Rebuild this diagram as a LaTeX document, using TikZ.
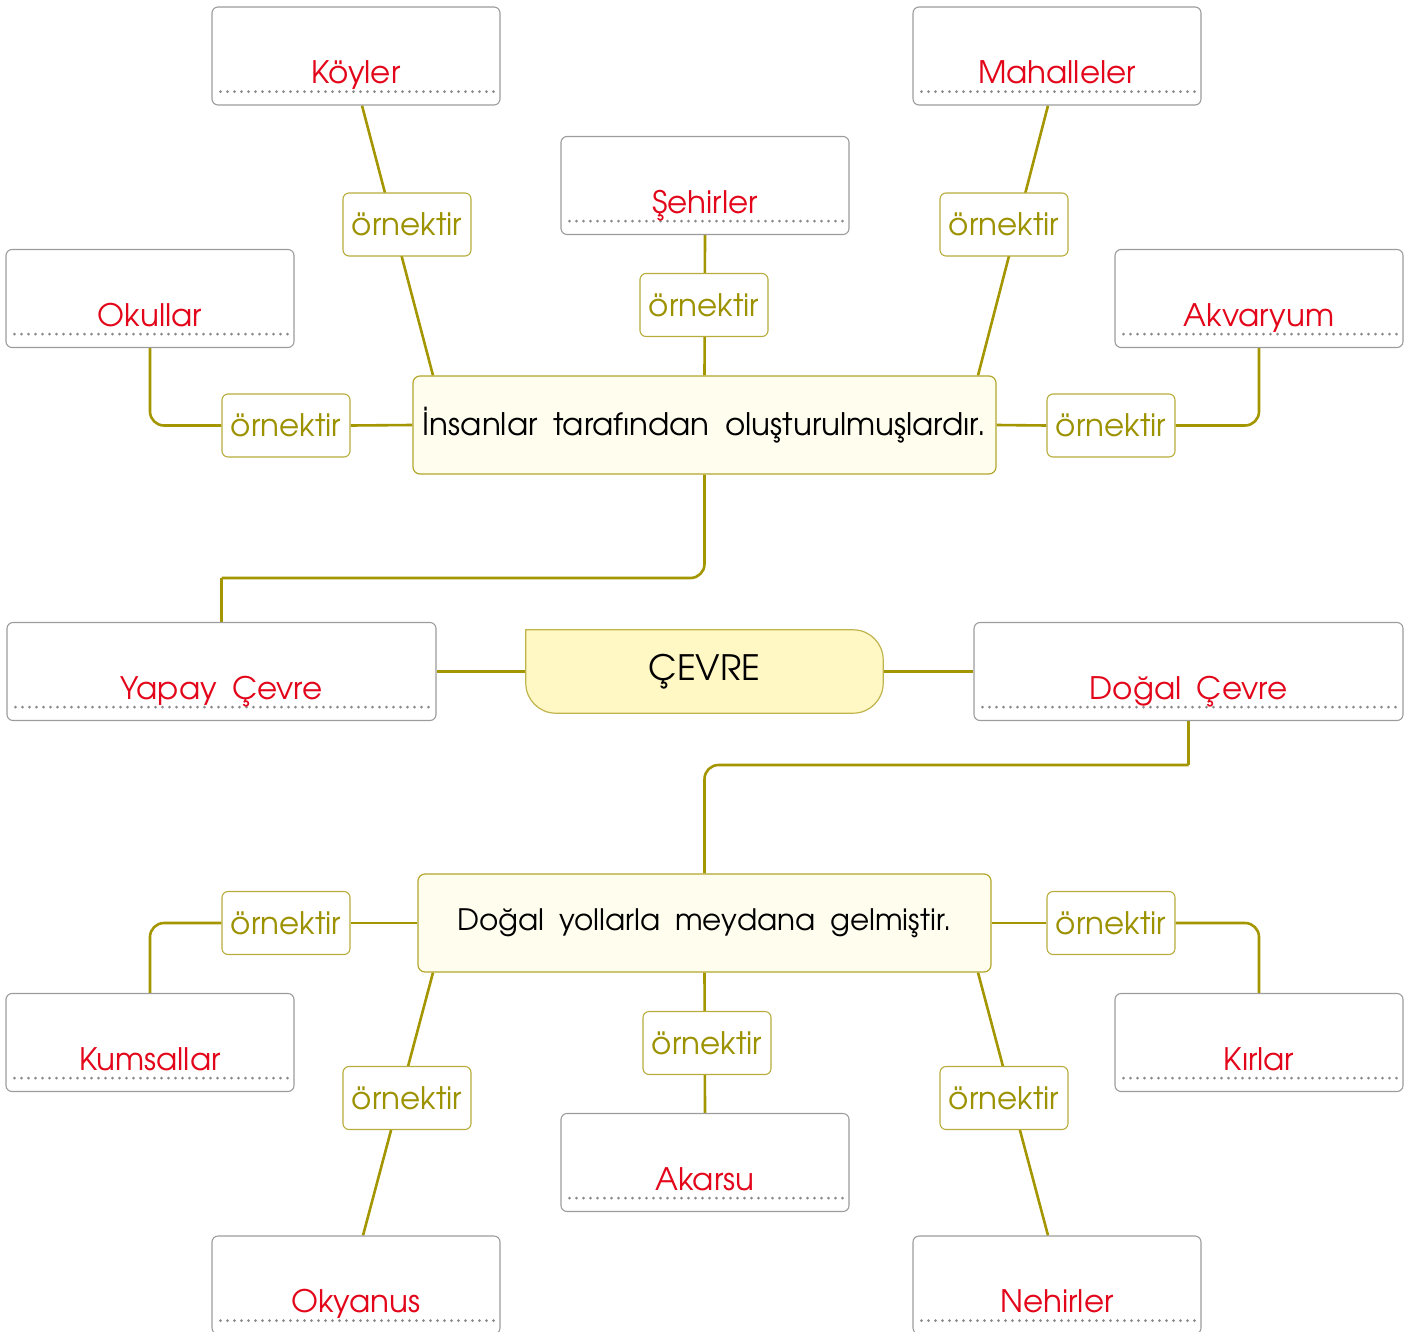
\documentclass[tikz,border=0pt]{standalone}
\usepackage{fontspec}
\setmainfont{TeX Gyre Adventor}[WordSpace={1.8}]
\usetikzlibrary{backgrounds,calc}
\definecolor{olv}{HTML}{A39600}
\definecolor{olvt}{HTML}{9C9200}
\definecolor{olvb}{HTML}{B8AC3C}
\definecolor{mainb}{HTML}{B2A62C}
\definecolor{cream}{HTML}{FFFDEE}
\definecolor{cevfill}{HTML}{FFF7C4}
\definecolor{cevb}{HTML}{C0B44C}
\definecolor{redt}{HTML}{E3061A}
\definecolor{boxgray}{HTML}{9C9C9C}
\definecolor{dotgray}{HTML}{8A8A8A}
\tikzset{
  conn/.style={draw=olv, line width=2.6pt},
  ans/.style={draw=boxgray, line width=1.1pt, rounded corners=6pt, fill=white, minimum width=288, minimum height=98, inner sep=0},
  dotline/.style={draw=dotgray, line width=3pt, line cap=round, dash pattern=on 0pt off 7pt},
  anstext/.style={text=redt, font=\fontsize{31}{36}\selectfont, anchor=base, inner sep=0},
  ornek/.style={draw=olvb, line width=1.1pt, rounded corners=6pt, fill=white, minimum width=128, minimum height=63, text=olvt, font=\fontsize{31}{36}\selectfont, inner sep=0},
  mainbox/.style={draw=mainb, line width=1.2pt, fill=cream, rounded corners=7pt, minimum height=98, inner sep=0},
}
\newcommand\ansbox[5]{%
  \node[ans, minimum width=#4] (#1) at (#2,#3) {};
  \draw[dotline] ([xshift=9pt,yshift=14pt]#1.south west) -- ([xshift=-7pt,yshift=14pt]#1.south east);
  \node[anstext] (#1t) at ([yshift=22pt]#1.south) {#5};
}
\newcommand\ornek[3]{\node[ornek] (#1) at (#2,#3) {\raisebox{-3pt}{örnektir}};}
\begin{document}
\begin{tikzpicture}[x=1pt,y=-1pt]
\useasboundingbox (0,0) rectangle (1410,1332);
% answer boxes
\ansbox{koy}{356}{56}{288}{Köyler}
\ansbox{seh}{705}{185.5}{288}{Şehirler}
\ansbox{mah}{1057}{56}{288}{Mahalleler}
\ansbox{okul}{150}{298.5}{288}{Okullar}
\ansbox{akv}{1259}{298.5}{288}{Akvaryum}
\ansbox{yapay}{221.5}{671.5}{429}{Yapay Çevre}
\ansbox{dogal}{1188.5}{671.5}{429}{Doğal Çevre}
\ansbox{kum}{150}{1042.5}{288}{Kumsallar}
\ansbox{kir}{1259}{1042.5}{288}{Kırlar}
\ansbox{aks}{705}{1162.5}{288}{Akarsu}
\ansbox{oky}{356}{1285}{288}{Okyanus}
\ansbox{neh}{1057}{1285}{288}{Nehirler}
% main boxes
\node[mainbox, minimum width=583, font=\fontsize{31}{36}\selectfont] (ins) at (704.5,425) {İnsanlar tarafından oluşturulmuşlardır.};
\node[mainbox, minimum width=573, font=\fontsize{29.5}{36}\selectfont] (dyol) at (704.5,923) {Doğal yollarla meydana gelmiştir.};
\node[minimum width=357, minimum height=83, inner sep=0, font=\fontsize{35}{40}\selectfont] (cevre) at (704.5,671.5) {\raisebox{-3pt}{ÇEVRE}};
% ornektir boxes
\ornek{o1}{407}{224.5}
\ornek{o2}{704}{305}
\ornek{o3}{1004}{224.5}
\ornek{o4}{286}{425.5}
\ornek{o5}{1111}{425.5}
\ornek{o6}{286}{923}
\ornek{o7}{1111}{923}
\ornek{o8}{707}{1043}
\ornek{o9}{407}{1098}
\ornek{o10}{1004}{1098}
\coordinate (c1) at (221.5,578);
\coordinate (c2) at (1188.5,765);
\begin{scope}[on background layer]
  % top tree
  \draw[conn] ([xshift=6pt]koy.south) -- ([xshift=-271.5pt]ins.north);
  \draw[conn] ([xshift=-9pt]mah.south) -- ([xshift=273.5pt]ins.north);
  \draw[conn] (seh.south) -- (ins.north);
  \draw[conn] (ins.west) -- (o4.east);
  \draw[conn, rounded corners=14pt] (o4.west) -| (okul.south);
  \draw[conn] (ins.east) -- (o5.west);
  \draw[conn, rounded corners=14pt] (o5.east) -| (akv.south);
  % to Yapay
  \draw[conn, rounded corners=14pt] (ins.south) |- (c1);
  \draw[conn] (c1) -- (yapay.north);
  % centre
  \draw[conn] (yapay.east) -- (cevre.west);
  \draw[conn] (cevre.east) -- (dogal.west);
  % to Dogal yollarla
  \draw[conn] (dogal.south) -- (c2);
  \draw[conn, rounded corners=14pt] (c2) -| (dyol.north);
  % bottom tree
  \draw[conn] (dyol.west) -- (o6.east);
  \draw[conn, rounded corners=14pt] (o6.west) -| (kum.north);
  \draw[conn] (dyol.east) -- (o7.west);
  \draw[conn, rounded corners=14pt] (o7.east) -| (kir.north);
  \draw[conn] (dyol.south) -- (aks.north);
  \draw[conn] ([xshift=-271.5pt]dyol.south) -- ([xshift=7pt]oky.north);
  \draw[conn] ([xshift=273.5pt]dyol.south) -- ([xshift=-9pt]neh.north);
  % CEVRE shape
  \draw[draw=cevb, line width=1.2pt, fill=cevfill] (cevre.north west) [rounded corners=30pt] -- (cevre.north east) -- (cevre.south east) -- (cevre.south west) [sharp corners] -- cycle;
\end{scope}
\end{tikzpicture}
\end{document}
